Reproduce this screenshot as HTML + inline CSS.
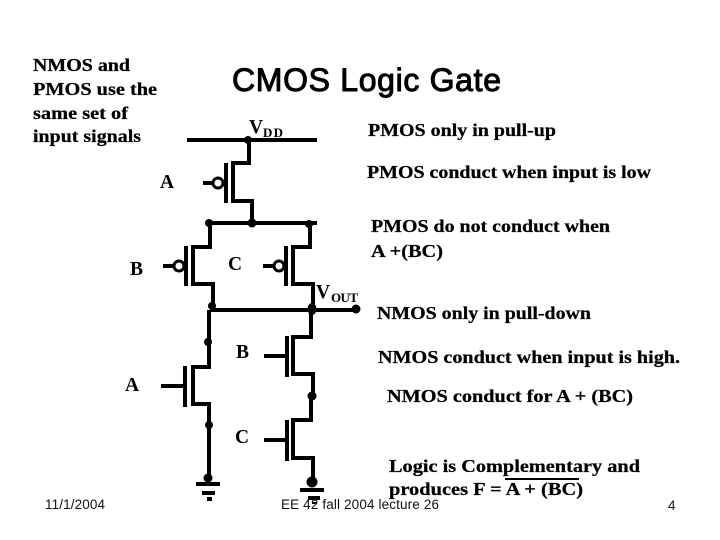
<!DOCTYPE html>
<html>
<head>
<meta charset="utf-8">
<style>
html,body{margin:0;padding:0;background:#fff;width:720px;height:540px;overflow:hidden}
svg{display:block}
.t{font-family:"Liberation Serif",serif;font-weight:bold;font-size:18px;fill:#000;stroke:#000;stroke-width:.25}
.l{font-family:"Liberation Serif",serif;font-weight:bold;font-size:19.5px;fill:#000}
.s{font-family:"Liberation Serif",serif;font-weight:bold;font-size:13px;fill:#000}
.f{font-family:"Liberation Sans",sans-serif;font-size:13.5px;fill:#111}
.w{fill:none;stroke:#000;stroke-width:4;stroke-linejoin:miter}
.g{fill:none;stroke:#000;stroke-width:4}
</style>
</head>
<body>
<svg width="720" height="540" viewBox="0 0 720 540" xmlns="http://www.w3.org/2000/svg">
<!-- wires -->
<path class="w" d="M187 140H317"/>
<path class="w" d="M249 140V163H233V201H252V223"/>
<path class="w" d="M209 223H317"/>
<path class="w" d="M210 223V247H193V284H213V310"/>
<path class="w" d="M310 223V247H293V284H313V310"/>
<path class="w" d="M210 310H356"/>
<path class="w" d="M209 310V367H193V404H209V478"/>
<path class="w" d="M311 310V337H293V374H313V396H311V420H293V458H313V482"/>
<!-- gate bars -->
<path class="g" d="M226 163V203M186 246V286M286 246V286M185 366V407M287 336V377M287 420V461"/>
<!-- gate stubs -->
<path class="g" d="M203 183H213M163 266H173M263 266H273M161 386H184M264 356H286M264 440H286"/>
<!-- bubbles -->
<circle cx="218" cy="183" r="5" fill="#fff" stroke="#000" stroke-width="3"/>
<circle cx="179" cy="266" r="5" fill="#fff" stroke="#000" stroke-width="3"/>
<circle cx="279" cy="266" r="5" fill="#fff" stroke="#000" stroke-width="3"/>
<!-- dots -->
<g fill="#000">
<circle cx="248" cy="140" r="4"/>
<circle cx="209" cy="223" r="4"/>
<circle cx="252" cy="223" r="4.5"/>
<circle cx="309" cy="224" r="4"/>
<circle cx="212" cy="306" r="4"/>
<ellipse cx="312" cy="309" rx="4.5" ry="6"/>
<circle cx="356" cy="309" r="4.5"/>
<circle cx="208" cy="342" r="4"/>
<circle cx="209" cy="425" r="4"/>
<circle cx="208" cy="478" r="4.5"/>
<circle cx="312" cy="396" r="4.5"/>
<circle cx="312" cy="482" r="5.5"/>
<!-- grounds -->
<rect x="196" y="482" width="24" height="4"/>
<rect x="202" y="491" width="13" height="4"/>
<rect x="207" y="497" width="5" height="4"/>
<rect x="300" y="488" width="24" height="4"/>
<rect x="308" y="496" width="12" height="4"/>
<rect x="312" y="502" width="5" height="2"/>
</g>
<!-- title -->
<text x="232" y="91" font-family="Liberation Sans, sans-serif" font-size="32" fill="#000" stroke="#000" stroke-width="1" textLength="269">CMOS Logic Gate</text>
<!-- left notes -->
<text class="t" x="33" y="71" textLength="97" lengthAdjust="spacingAndGlyphs">NMOS and</text>
<text class="t" x="33" y="95" textLength="124" lengthAdjust="spacingAndGlyphs">PMOS use the</text>
<text class="t" x="33" y="119" textLength="95" lengthAdjust="spacingAndGlyphs">same set of</text>
<text class="t" x="33" y="142" textLength="108" lengthAdjust="spacingAndGlyphs">input signals</text>
<!-- circuit labels -->
<text class="l" x="249" y="133">V</text>
<text class="s" x="263" y="137" textLength="20">DD</text>
<text class="l" x="160" y="188">A</text>
<text class="l" x="130" y="275">B</text>
<text class="l" x="228" y="270">C</text>
<text class="l" x="316" y="298">V</text>
<text class="s" x="331" y="302" textLength="27">OUT</text>
<text class="l" x="236" y="358">B</text>
<text class="l" x="125" y="391">A</text>
<text class="l" x="235" y="443">C</text>
<!-- right notes -->
<text class="t" x="368" y="136" textLength="188" lengthAdjust="spacingAndGlyphs">PMOS only in pull-up</text>
<text class="t" x="367" y="178" textLength="284" lengthAdjust="spacingAndGlyphs">PMOS conduct when input is low</text>
<text class="t" x="371" y="232" textLength="239" lengthAdjust="spacingAndGlyphs">PMOS do not conduct when</text>
<text class="t" x="371" y="257" textLength="72" lengthAdjust="spacingAndGlyphs">A +(BC)</text>
<text class="t" x="377" y="319" textLength="214" lengthAdjust="spacingAndGlyphs">NMOS only in pull-down</text>
<text class="t" x="378" y="363" textLength="302" lengthAdjust="spacingAndGlyphs">NMOS conduct when input is high.</text>
<text class="t" x="387" y="402" textLength="246" lengthAdjust="spacingAndGlyphs">NMOS conduct for A + (BC)</text>
<text class="t" x="389" y="472" textLength="251" lengthAdjust="spacingAndGlyphs">Logic is Complementary  and</text>
<text class="t" x="389" y="495" textLength="194" lengthAdjust="spacingAndGlyphs">produces F = A + (BC)</text>
<rect x="505" y="478" width="74" height="2" fill="#000"/>
<!-- footer -->
<text class="f" x="45" y="509" textLength="60">11/1/2004</text>
<text class="f" x="281" y="509" textLength="158">EE 42 fall 2004 lecture 26</text>
<text class="f" x="668" y="510">4</text>
</svg>
</body>
</html>
